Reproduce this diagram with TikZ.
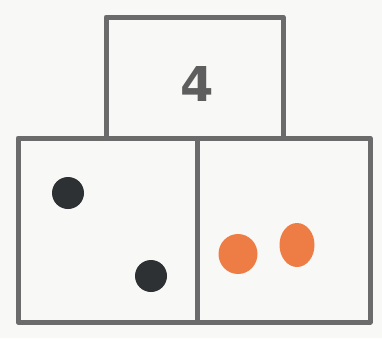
\documentclass[tikz,border=0pt]{standalone}
\usepackage{fontspec}
\setsansfont{DejaVu Sans}
\definecolor{linegray}{HTML}{6B6B6B}
\definecolor{textgray}{HTML}{5E5E5E}
\definecolor{dotblack}{HTML}{2E3134}
\definecolor{dotorange}{HTML}{EE7D45}
\definecolor{bg}{HTML}{F8F8F6}
\begin{document}
\begin{tikzpicture}[x=1pt,y=-1pt,
  box/.style={draw=linegray,line width=5pt,line join=round},
  bdot/.style={fill=dotblack,draw=none},
  odot/.style={fill=dotorange,draw=none}]
\fill[bg] (0,0) rectangle (382,338);
\useasboundingbox (0,0) rectangle (382,338);
\draw[box] (106,17) rectangle (283,138);
\draw[box] (18,138) rectangle (197,322);
\draw[box] (197,138) rectangle (370,322);
\node[text=textgray,inner sep=0pt,font=\sffamily\bfseries\fontsize{48}{48}\selectfont] (four) at (197,84) {4};
\fill[bdot] (68,193) circle (16);
\fill[bdot] (151,276) circle (16);
\fill[odot] (238,254) ellipse (19.5 and 20);
\fill[odot] (297,245) ellipse (17.5 and 22);
\end{tikzpicture}
\end{document}
